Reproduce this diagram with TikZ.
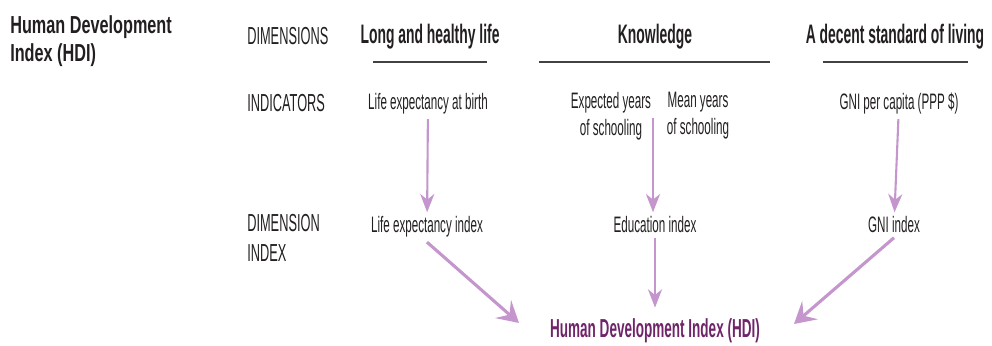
\documentclass[tikz,border=0pt]{standalone}
\usepackage{fontspec}
\usetikzlibrary{arrows.meta}
\newfontfamily\cond[FakeStretch=0.52]{Liberation Sans}
\newfontfamily\condtitle[FakeStretch=0.66]{Liberation Sans}
\definecolor{ink}{RGB}{35,31,32}
\definecolor{flowcol}{RGB}{196,150,205}
\definecolor{hdicol}{RGB}{112,36,106}

\begin{document}
\begin{tikzpicture}[x=0.025cm, y=-0.025cm,
        every node/.style={inner sep=3pt, text=ink},
        rowlabel/.style={anchor=base west, inner sep=0pt, align=left, font=\cond\fontsize{17.5}{21.3}\selectfont},
        dimlabel/.style={anchor=base, font=\cond\bfseries\fontsize{19}{23}\selectfont},
        item/.style={anchor=base, font=\cond\fontsize{15.9}{19.2}\selectfont},
        rule/.style={draw=ink!85, line width=1.2pt},
        flow/.style={draw=flowcol, line width=1.5pt, -{Stealth[length=13pt,width=10pt,inset=4pt]}},
        bigflow/.style={draw=flowcol, line width=2.2pt, -{Stealth[length=15pt,width=17pt,inset=6pt]}}]
        \useasboundingbox (0,0) rectangle (992,346);
        \node[anchor=north west, inner sep=0pt, align=left, font=\condtitle\bfseries\fontsize{17.5}{20}\selectfont] (title) at (10,15) {Human Development\\Index (HDI)};
        \node[rowlabel] (dimlbl) at (247,45) {DIMENSIONS};
        \node[rowlabel] (indlbl) at (247,112) {INDICATORS};
        \node[rowlabel, anchor=north west] (idxlbl) at (247,214) {DIMENSION\\INDEX};
        \node[dimlabel] (health) at (430,44) {Long and healthy life};
        \node[dimlabel] (know) at (655,44) {Knowledge};
        \node[dimlabel] (living) at (895,44) {A decent standard of living};
        \draw[rule] (373,62) -- (487,62);
        \draw[rule] (539,62) -- (770,62);
        \draw[rule] (823,62) -- (968,62);
        \node[item] (birth) at (428,110) {Life expectancy at birth};
        \node[item, anchor=north, align=center, inner sep=0pt] (expyrs) at (611,92) {Expected years\\of schooling};
        \node[item, anchor=north, align=center, inner sep=0pt] (meanyrs) at (698,92) {Mean years\\of schooling};
        \node[item] (gnipc) at (899,110) {GNI per capita (PPP \$)};
        \node[item] (lifeidx) at (427,233) {Life expectancy index};
        \node[item] (eduidx) at (655,233) {Education index};
        \node[item] (gniidx) at (894,233) {GNI index};
        \node[dimlabel, text=hdicol, font=\cond\bfseries\fontsize{18.5}{22}\selectfont] (hdi) at (655,338) {Human Development Index (HDI)};
        \coordinate (school) at (653,118);
        \coordinate (tipL) at (519,323);
        \coordinate (tipR) at (794,324);
        \draw[flow] (birth) -- (lifeidx);
        \draw[flow] (school) -- (school |- eduidx.north);
        \draw[flow] (gnipc) -- (gniidx);
        \draw[bigflow] (lifeidx.south) -- (tipL);
        \draw[flow, shorten >=5pt] (eduidx) -- (hdi);
        \draw[bigflow] (gniidx.south) -- (tipR);
      \end{tikzpicture}
\end{document}
